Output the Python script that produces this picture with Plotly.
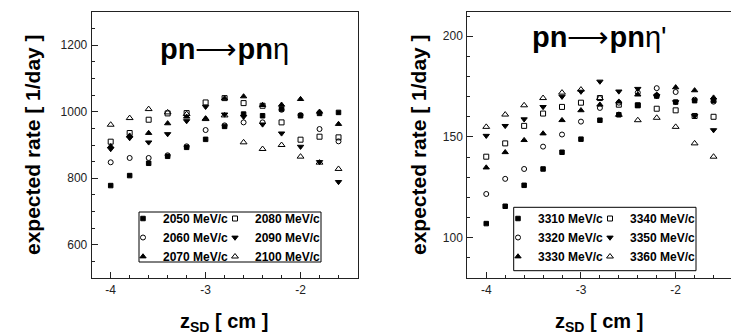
import plotly.graph_objects as go

# ---------------- data ----------------
z_sd = [-4.0, -3.8, -3.6, -3.4, -3.2, -3.0, -2.8, -2.6, -2.4, -2.2, -2.0, -1.8, -1.6]

eta_momenta = [2050, 2060, 2070, 2080, 2090, 2100]
eta_2050 = [778, 808, 845, 866, 893, 917, 956, 993, 988, 1008, 988, 995, 998]
eta_2060 = [848, 861, 861, 869, 896, 945, 959, 968, 968, 1006, 990, 948, 911]
eta_2070 = [896, 928, 936, 965, 985, 980, 1040, 1046, 1020, 1021, 1038, 1000, 963]
eta_2080 = [910, 936, 976, 995, 996, 1028, 1041, 1026, 1018, 968, 916, 925, 923]
eta_2090 = [888, 921, 908, 933, 972, 1015, 992, 985, 962, 935, 895, 849, 789]
eta_2100 = [961, 981, 1008, 998, 993, 978, 989, 908, 888, 900, 865, 847, 828]

etap_momenta = [3310, 3320, 3330, 3340, 3350, 3360]
etap_3310 = [107.0, 115.6, 126.0, 134.1, 142.4, 148.9, 158.3, 161.0, 165.7, 170.3, 167.3, 168.0, 168.0]
etap_3320 = [121.7, 129.2, 134.1, 145.2, 151.2, 157.6, 164.4, 167.0, 172.0, 174.2, 172.3, 168.5, 167.5]
etap_3330 = [134.8, 142.4, 148.4, 151.7, 158.3, 163.2, 166.0, 167.5, 171.0, 171.0, 174.6, 173.1, 169.5]
etap_3340 = [140.2, 146.8, 155.5, 161.6, 164.9, 167.0, 169.3, 166.0, 165.7, 164.0, 163.2, 160.4, 160.0]
etap_3350 = [150.6, 155.5, 158.8, 164.9, 170.0, 172.5, 177.5, 172.6, 173.9, 170.3, 167.3, 160.4, 153.4]
etap_3360 = [155.0, 161.1, 165.7, 169.3, 172.0, 173.5, 169.3, 161.0, 158.3, 159.5, 155.0, 146.8, 140.2]

x_tickvals = [-4, -3, -2]
x_ticktext = ["-4", "-3", "-2"]
eta_yticks = [600, 800, 1000, 1200]
etap_yticks = [100, 150, 200]

ARROW = "<span style='font-weight:normal'>⟶</span>"
title_eta = "pn" + ARROW + "pn<span style='font-weight:normal'>η</span>"
title_etap = "pn" + ARROW + "pn<span style='font-weight:normal'>η'</span>"
ytitle = "expected rate [ 1/day ]"
xtitle = "z<sub>SD</sub> [ cm ]"

# ---------------- style ----------------
W, H = 739, 334
FONT = "Liberation Sans, Arial, Helvetica, sans-serif"
symbols = ["square", "circle-open", "triangle-up", "square-open", "triangle-down", "triangle-up-open"]
msizes = [4.5, 5, 5.5, 5, 5.5, 6]

def px_x(p):
    return p / W

def px_y(p):
    return 1 - p / H

fig = go.Figure()

eta_series = [eta_2050, eta_2060, eta_2070, eta_2080, eta_2090, eta_2100]
etap_series = [etap_3310, etap_3320, etap_3330, etap_3340, etap_3350, etap_3360]

for i, (p, ys) in enumerate(zip(eta_momenta, eta_series)):
    fig.add_trace(go.Scatter(
        x=z_sd, y=ys, mode="markers", name=f"{p} MeV/c",
        marker=dict(symbol=symbols[i], size=msizes[i], color="black",
                    line=dict(color="black", width=1)),
        xaxis="x", yaxis="y",
        legend="legend" if i < 3 else "legend2",
    ))

for i, (p, ys) in enumerate(zip(etap_momenta, etap_series)):
    fig.add_trace(go.Scatter(
        x=z_sd, y=ys, mode="markers", name=f"{p} MeV/c",
        marker=dict(symbol=symbols[i], size=msizes[i], color="black",
                    line=dict(color="black", width=1)),
        xaxis="x2", yaxis="y2",
        legend="legend3" if i < 3 else "legend4",
    ))

tickfont = dict(family=FONT, size=12, color="#222")
common_axis = dict(
    showline=True, linecolor="#222", linewidth=1, mirror=True,
    showgrid=False, zeroline=False, ticks="inside", ticklen=6,
    tickcolor="#222", tickfont=tickfont,
)

ydom = [px_y(270), px_y(4)]
fig.update_layout(
    width=W, height=H,
    margin=dict(l=0, r=0, t=0, b=0),
    paper_bgcolor="white", plot_bgcolor="white",
    font=dict(family=FONT, color="black"),
    xaxis=dict(domain=[px_x(83.7), px_x(349.5)], range=[-4.2, -1.4],
               tickvals=x_tickvals, ticktext=x_ticktext, anchor="y",
               minor=dict(dtick=0.2, ticks="inside", ticklen=3, tickcolor="#222"),
               ticklabelstandoff=1, **common_axis),
    yaxis=dict(domain=ydom, range=[500, 1300], tickvals=eta_yticks, anchor="x",
               minor=dict(dtick=50, ticks="inside", ticklen=3, tickcolor="#222"),
               ticklabelstandoff=1, **common_axis),
    xaxis2=dict(domain=[px_x(459.3), px_x(724.5)], range=[-4.2, -1.4],
                tickvals=x_tickvals, ticktext=x_ticktext, anchor="y2",
                minor=dict(dtick=0.2, ticks="inside", ticklen=3, tickcolor="#222"),
                ticklabelstandoff=1, **common_axis),
    yaxis2=dict(domain=ydom, range=[80, 212], tickvals=etap_yticks, anchor="x2",
                minor=dict(dtick=10, ticks="inside", ticklen=3, tickcolor="#222"),
                ticklabelstandoff=1, **common_axis),
    showlegend=True,
)

leg_common = dict(orientation="v", xanchor="left", yanchor="top",
                  bgcolor="rgba(0,0,0,0)", borderwidth=0, tracegroupgap=0,
                  font=dict(family=FONT, size=12, color="black", weight="bold"))
fig.update_layout(
    legend=dict(x=px_x(115), y=px_y(196), **leg_common),
    legend2=dict(x=px_x(207), y=px_y(196), **leg_common),
    legend3=dict(x=px_x(490), y=px_y(196), **leg_common),
    legend4=dict(x=px_x(582), y=px_y(196), **leg_common),
)

# legend frames
for (x0, x1, y0, y1) in [(131, 313, 204, 254), (505.7, 688, 199.3, 262.7)]:
    fig.add_shape(type="rect", xref="paper", yref="paper",
                  x0=px_x(x0), x1=px_x(x1), y0=px_y(y1), y1=px_y(y0),
                  line=dict(color="black", width=1), fillcolor="rgba(0,0,0,0)")

bold_title = dict(family=FONT, size=21, color="black", weight="bold")
xtitle_font = dict(family=FONT, size=20, color="black", weight="bold")
ann = [
    dict(text=title_eta, x=px_x(216.5), y=px_y(41), font=dict(family=FONT, size=29, color="black", weight="bold")),
    dict(text=title_etap, x=px_x(591), y=px_y(29), font=dict(family=FONT, size=29, color="black", weight="bold")),
    dict(text=ytitle, x=px_x(24), y=px_y(137), textangle=-90, font=bold_title),
    dict(text=ytitle, x=px_x(410), y=px_y(137), textangle=-90, font=bold_title),
    dict(text=xtitle, x=px_x(216), y=px_y(314), font=xtitle_font),
    dict(text=xtitle, x=px_x(591), y=px_y(314), font=xtitle_font),
]
for a in ann:
    fig.add_annotation(xref="paper", yref="paper", showarrow=False,
                       xanchor="center", yanchor="middle", **a)

fig.write_html("out.html")
